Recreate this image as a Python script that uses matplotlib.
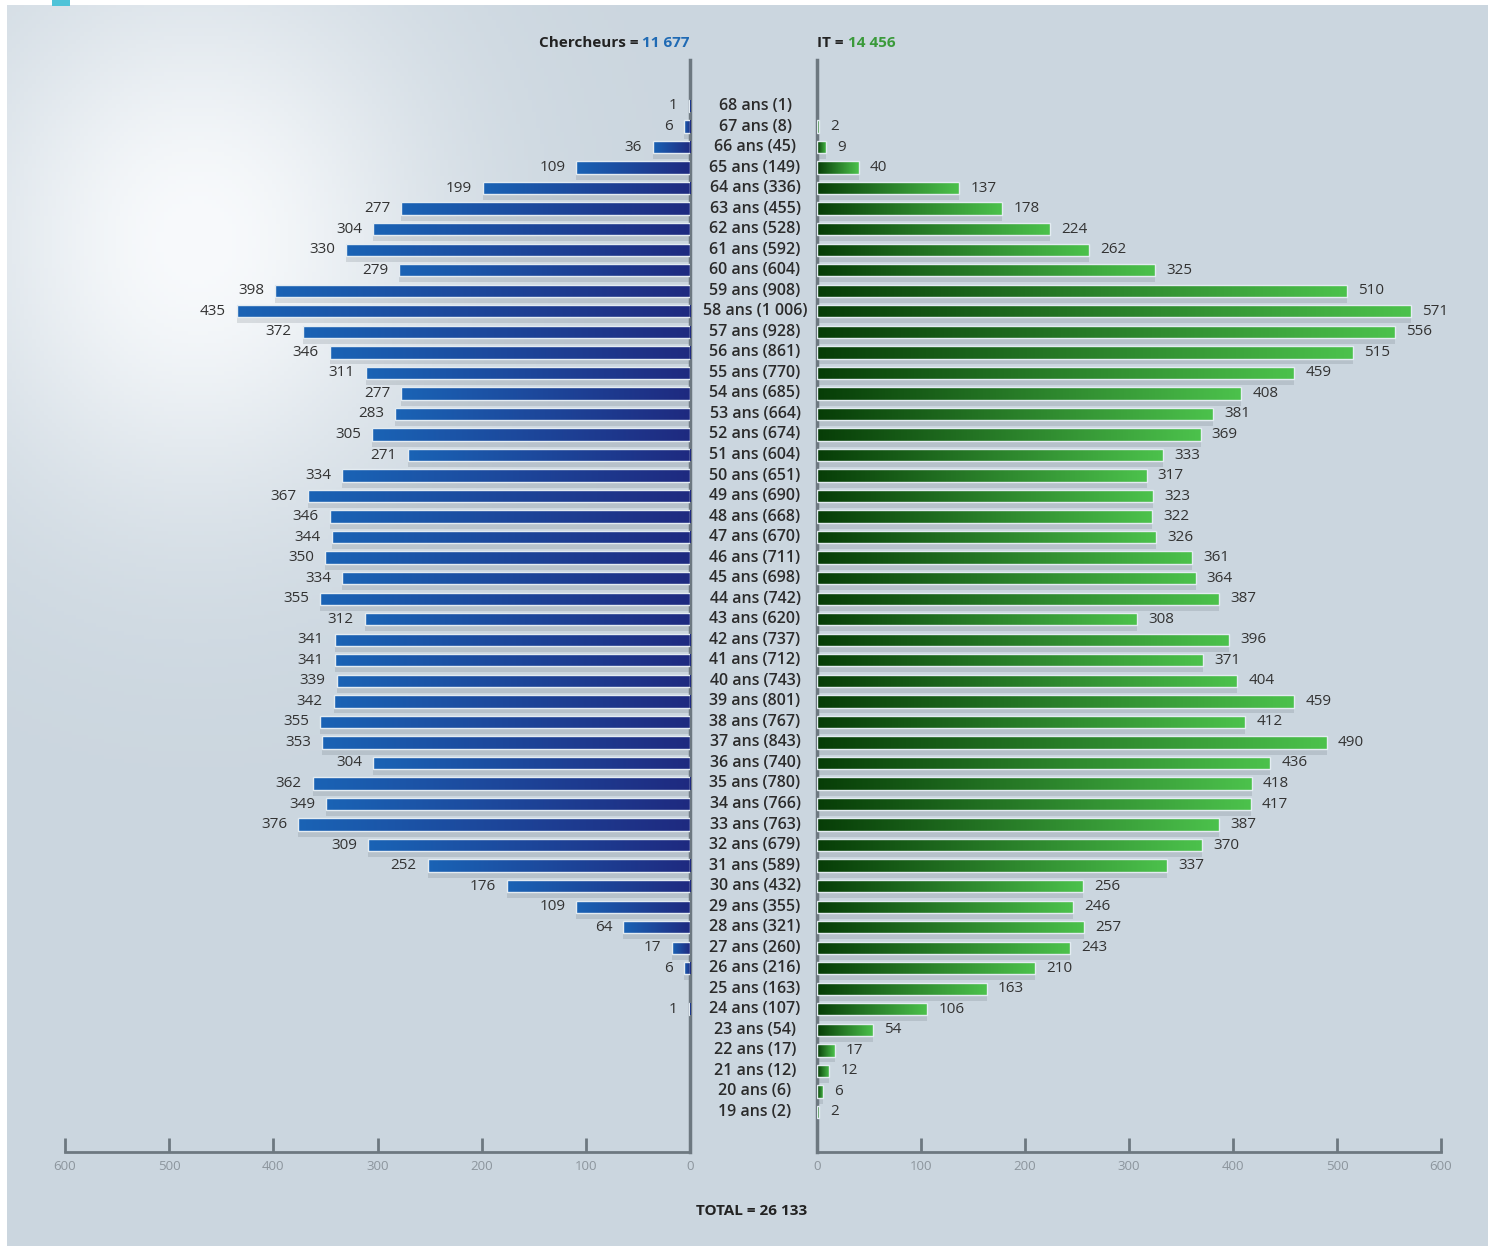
import numpy as np
import matplotlib
matplotlib.use("Agg")
import matplotlib.pyplot as plt
from matplotlib.colors import LinearSegmentedColormap
from matplotlib.patches import Rectangle
from matplotlib.transforms import blended_transform_factory

plt.rcParams['font.family'] = ['Open Sans', 'DejaVu Sans']

# data: age pyramid, 68 ans at the top down to 19 ans
ages = list(range(68, 18, -1))
chercheurs = [1, 6, 36, 109, 199, 277, 304, 330, 279, 398,
              435, 372, 346, 311, 277, 283, 305, 271, 334, 367,
              346, 344, 350, 334, 355, 312, 341, 341, 339, 342,
              355, 353, 304, 362, 349, 376, 309, 252, 176, 109,
              64, 17, 6, 0, 1, 0, 0, 0, 0, 0]
it_staff = [0, 2, 9, 40, 137, 178, 224, 262, 325, 510,
            571, 556, 515, 459, 408, 381, 369, 333, 317, 323,
            322, 326, 361, 364, 387, 308, 396, 371, 404, 459,
            412, 490, 436, 418, 417, 387, 370, 337, 256, 246,
            257, 243, 210, 163, 106, 54, 17, 12, 6, 2]
ticks = [0, 100, 200, 300, 400, 500, 600]


def fmt(n):
    return f"{n:,}".replace(",", " ")


W, H = 1488, 1246
fig = plt.figure(figsize=(W / 100, H / 100), dpi=100)

# background with soft white glow on the upper left
bg = fig.add_axes([0, 0, 1, 1], zorder=-5)
yy, xx = np.mgrid[0:H:4, 0:W:4]
glow = np.exp(-(((xx - 195) / 240.0) ** 2 + ((yy - 240) / 270.0) ** 2))
base = np.array([203, 214, 223]) / 255.0
white = np.array([248, 250, 252]) / 255.0
img = base[None, None, :] + (white - base)[None, None, :] * glow[..., None]
bg.imshow(img, extent=(0, W, H, 0), aspect='auto')
bg.set_xlim(0, W)
bg.set_ylim(H, 0)
bg.axis('off')
bg.add_patch(Rectangle((0, 0), 7, H, color='white', lw=0))
bg.add_patch(Rectangle((0, 0), W, 5, color='white', lw=0))
bg.add_patch(Rectangle((52, 0), 18, 6, color='#4fc3d8', lw=0))

ax_b = 1 - 1152 / H
ax_h = (1152 - 60) / H
ax_l = fig.add_axes([65 / W, ax_b, 625 / W, ax_h])
ax_r = fig.add_axes([817 / W, ax_b, 624 / W, ax_h])

ylim = (17.05, 70.24)
axis_col = '#6d7880'
blue_cmap = LinearSegmentedColormap.from_list('b', ['#1f2a80', '#1a63b5'])
green_cmap = LinearSegmentedColormap.from_list('g', ['#073d07', '#4cc24c'])
grad = np.linspace(0, 1, 256).reshape(1, -1)


def draw_side(ax, vals, cmap, side):
    vals = np.array(vals)
    ys = np.array(ages)
    keep = vals > 0
    ax.barh(ys[keep] - 0.28, vals[keep], height=0.62, color='#4a5560',
            alpha=0.16, lw=0, zorder=2)
    bars = ax.barh(ys[keep], vals[keep], height=0.6, facecolor='none',
                   edgecolor='#e4ecf2', lw=1.0, zorder=4)
    for b, v in zip(bars, vals[keep]):
        im = ax.imshow(grad, cmap=cmap, aspect='auto', origin='lower',
                       extent=(0, v, b.get_y(), b.get_y() + b.get_height()),
                       zorder=3)
        im.set_clip_path(b)
        ax.annotate(str(v), (v, b.get_y() + b.get_height() / 2),
                    xytext=(-8 if side == 'l' else 8, 0),
                    textcoords='offset points',
                    ha='right' if side == 'l' else 'left', va='center',
                    fontsize=11, color='#333333')
    ax.set_ylim(*ylim)
    ax.set_facecolor('none')
    ax.set_yticks([])
    ax.set_xticks(ticks)
    ax.tick_params(axis='x', direction='in', length=10, width=2,
                   color=axis_col, labelcolor='#8c959d', labelsize=9.5, pad=6)
    for s in ('top', 'left', 'right', 'bottom'):
        ax.spines[s].set_visible(False)
    ax.spines['bottom'].set_visible(True)
    ax.spines['bottom'].set_color(axis_col)
    ax.spines['bottom'].set_linewidth(2)
    inner = 'right' if side == 'l' else 'left'
    ax.spines[inner].set_visible(True)
    ax.spines[inner].set_color(axis_col)
    ax.spines[inner].set_linewidth(2.5)


draw_side(ax_l, chercheurs, blue_cmap, 'l')
ax_l.set_xlim(600, 0)
draw_side(ax_r, it_staff, green_cmap, 'r')
ax_r.set_xlim(0, 600)

# centre age labels
tr = blended_transform_factory(fig.transFigure, ax_l.transData)
for a, c, i in zip(ages, chercheurs, it_staff):
    fig.text(755 / W, a, f"{a} ans ({fmt(c + i)})", transform=tr,
             ha='center', va='center', fontsize=11.5, color='#2b2b2b',
             fontweight='semibold')

# headers
hy = 1 - 43 / H
t1 = fig.text(690 / W, hy, fmt(sum(chercheurs)), ha='right', va='center',
              fontsize=11, fontweight='bold', color='#1f6ab4')
ax_l.annotate("Chercheurs = ", xy=(0, 0.5), xycoords=t1, ha='right',
              va='center', fontsize=11, fontweight='bold', color='#222222',
              annotation_clip=False)
t2 = fig.text(817 / W, hy, "IT = ", ha='left', va='center',
              fontsize=11, fontweight='bold', color='#222222')
ax_r.annotate(fmt(sum(it_staff)), xy=(1, 0.5), xycoords=t2, ha='left',
              va='center', fontsize=11, fontweight='bold', color='#3a9a3a',
              annotation_clip=False)

fig.text(752 / W, 1 - 1211 / H,
         f"TOTAL = {fmt(sum(chercheurs) + sum(it_staff))}",
         ha='center', va='center', fontsize=11, fontweight='bold',
         color='#222222')

fig.savefig("out.png", dpi=100)
